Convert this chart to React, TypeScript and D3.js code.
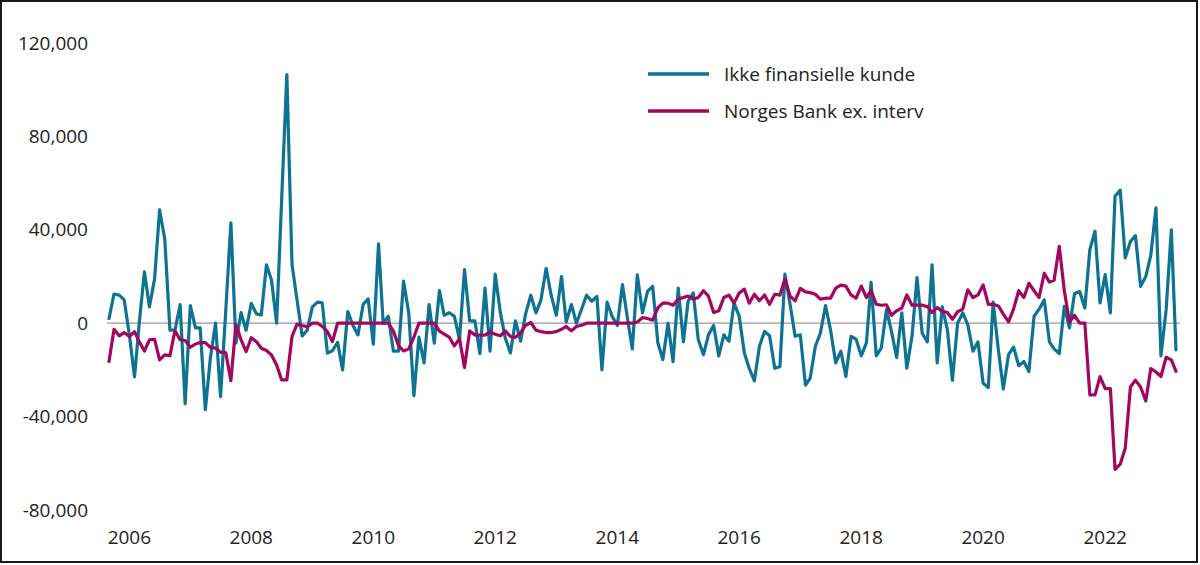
import React from "react";
import * as d3 from "d3";

// Monthly data, Sep 2005 – Mar 2023 (values in NOK million)
const START_YEAR = 2005;
const START_MONTH = 8; // September (0-based)

const ikkeFinansielle: number[] = [
  2, 12.5, 12, 10, -5, -23, 0, 22, 7, 19, 48.5, 36, -3, -3, 8, -34.5, 7.5, -2, -2, -37,
  -15, 0, -31.5, 5, 43, -8.5, 4.5, -3, 8.5, 4, 3.5, 25, 18.5, 0, 53, 106.5, 25, 10, -5.5, -3,
  7, 9, 8.7, -12.8, -11.8, -8.2, -20, 5, -1, -5, 8, 10.4, -9, 34, 0, 3, -12, -12, 18, 4.5,
  -31, -6, -17, 8, -8.5, 14, 3.4, 4.5, 3, -7, 23, 1, 1, -13, 15, -12, 21, 4.4, -6.3, -12.8,
  1, -7.7, 4, 12, 4.4, 10, 23.5, 12, 3.4, 20, 0.5, 8, 0, 6, 12, 9.4, 11.5, -20, 9, 3,
  -1, 16.5, 3, -11, 20.7, 4.4, 13.6, 15.8, -8.4, -15.6, 0, -16.5, 15, -8, 9.4, 13, -7, -13.5, -5, -1,
  -14, -5, -7.7, 8.7, 3, -12.8, -19.3, -24.7, -10, -3.5, -5.4, -19.3, -18.6, 21, 8, -5.6, -5, -26.5, -23.6, -10,
  -4.3, 7.5, -2.8, -17, -12, -22.8, -5.6, -6.8, -14, -8.4, 17.5, -14, -10.6, 5.8, -3.5, -14.7, 4.4, -19.3, -5.6, 19.5,
  -4.3, -8, 25, -17, 7, -2.8, -24.5, 0, 4.4, -0.6, -12, -8, -25.7, -27.5, 9, -11.4, -28.2, -13.5, -10.2, -18.2,
  -16.4, -20.7, 3, 6, 10, -8, -11, -13, 7.2, -2, 12.6, 13.6, 6.5, 31.5, 39.4, 8.7, 20.8, 4.4, 54.4, 57,
  28, 35, 37.5, 15.8, 20, 29, 49.4, -14, 5.8, 40, -11.4,
];

const norgesBank: number[] = [
  -16.4, -2.6, -5.4, -4, -5.7, -3.6, -7.9, -11.9, -7.1, -6.9, -15.7, -13.6, -13.9, -3.2, -7.1, -7.4, -10.3, -8.9, -8.3, -8.3,
  -10.3, -10.7, -12.4, -12.6, -24.6, -0.7, -7.1, -12.2, -6.2, -7.9, -10.7, -11.7, -13.6, -17.9, -24.3, -24.3, -5.7, -0.4, -1, -1.5,
  0, 0, -1.4, -3.6, -7.9, 0, 0, 0, 0, 0, 0, 0, 0, 0, 0, 0, -3.4, -9.6, -11.9, -11,
  -6, 0, 0, 0, 0, -3.4, -4.7, -6, -9.7, -6.6, -19, -3.3, -5, -5.1, -5.1, -3.7, -4.7, -5.4, -3.3, -5.7,
  -6.1, -4, -0.9, 0.3, -3, -3.6, -4, -4, -3.6, -2.6, -1.4, -3.3, -1.4, -0.9, 0, 0, 0, 0, 0, 0,
  0, 0, 0, 0, 0.5, 2.4, 2, 1.3, 6.6, 8.6, 8.6, 7.7, 10.3, 11, 11.6, 10.3, 11, 13.9, 11.6, 4.6,
  5.3, 11, 12, 8.6, 12.9, 14.6, 8.6, 12.4, 9.6, 12.1, 8.1, 12.4, 12, 18.9, 11.6, 9.6, 14.9, 13.4, 13.1, 12.4,
  10.3, 10.7, 10.7, 15, 16.3, 15.9, 12.1, 10.7, 15.9, 11, 13.9, 8.1, 7.7, 7.9, 3.4, 5.3, 6.5, 12.1, 7.7, 7.7,
  7.7, 7.1, 4.6, 6.7, 5, 4.6, 1.7, 4.9, 6, 14.3, 11, 12.1, 16.4, 8.1, 8.1, 7.4, 3.9, 0.6, 6, 13.9,
  11, 17.1, 13.9, 11, 21.4, 17.6, 18.4, 32.9, 14, 0.5, 3.4, 0, 0, -30.7, -30.7, -22.9, -28, -28, -62.6, -60.4,
  -53.6, -27.3, -24.4, -27.3, -33.3, -19.4, -20.9, -22.8, -14.6, -15.7, -20.6,
];

const yTicks: number[] = [120000, 80000, 40000, 0, -40000, -80000];
const xTickYears: number[] = [2006, 2008, 2010, 2012, 2014, 2016, 2018, 2020, 2022];
const seriesNames: string[] = ["Ikke finansielle kunde", "Norges Bank ex. interv"];
const seriesColors: string[] = ["#0e7293", "#a2065e"];

const W = 1200;
const H = 565;
const FONT = "'Open Sans', 'DejaVu Sans', sans-serif";

export default function App() {
  const n = ikkeFinansielle.length;
  const dates = d3.range(n).map((i) => new Date(START_YEAR, START_MONTH + i, 1));

  const x = d3.scaleTime().domain([dates[0], dates[n - 1]]).range([109, 1176]);
  const y = d3.scaleLinear().domain([-80000, 120000]).range([510, 43]);

  const locale = d3.formatLocale({
    decimal: ".",
    thousands: ",",
    grouping: [3],
    currency: ["", ""],
    minus: "-",
  });
  const fmt = locale.format(",");

  const line = d3
    .line<number>()
    .x((_, i) => x(dates[i]))
    .y((v) => y(v * 1000))
    .curve(d3.curveLinear);

  const series = [ikkeFinansielle, norgesBank];

  return (
    <svg
      width={W}
      height={H}
      style={{ position: "absolute", left: 0, top: 0, background: "#fff" }}
      fontFamily={FONT}
    >
      <rect x={0} y={0} width={W} height={H} fill="#fff" />
      <rect x={1} y={1} width={1196} height={561} fill="none" stroke="#1a1a1a" strokeWidth={2} />

      {/* y axis labels */}
      {yTicks.map((t) => (
        <text
          key={t}
          x={88}
          y={y(t)}
          dy="0.35em"
          textAnchor="end"
          fontSize={19}
          fill="#222"
        >
          {fmt(t)}
        </text>
      ))}

      {/* x axis labels */}
      {xTickYears.map((yr) => (
        <text
          key={yr}
          x={x(new Date(yr, 0, 1))}
          y={544}
          textAnchor="middle"
          fontSize={19}
          fill="#222"
        >
          {yr}
        </text>
      ))}

      {/* zero line */}
      <line x1={107} x2={1180} y1={y(0)} y2={y(0)} stroke="#9a9a9a" strokeWidth={1.2} />

      {/* series */}
      {series.map((s, k) => (
        <path
          key={k}
          d={line(s) || ""}
          fill="none"
          stroke={seriesColors[k]}
          strokeWidth={3.2}
          strokeLinejoin="round"
          strokeLinecap="round"
        />
      ))}

      {/* legend */}
      {seriesNames.map((name, k) => (
        <g key={name} transform={`translate(648, ${74 + k * 37})`}>
          <line x1={0} x2={61} y1={0} y2={0} stroke={seriesColors[k]} strokeWidth={3.5} />
          <text x={76} y={0} dy="0.35em" fontSize={19} fill="#222">
            {name}
          </text>
        </g>
      ))}
    </svg>
  );
}
